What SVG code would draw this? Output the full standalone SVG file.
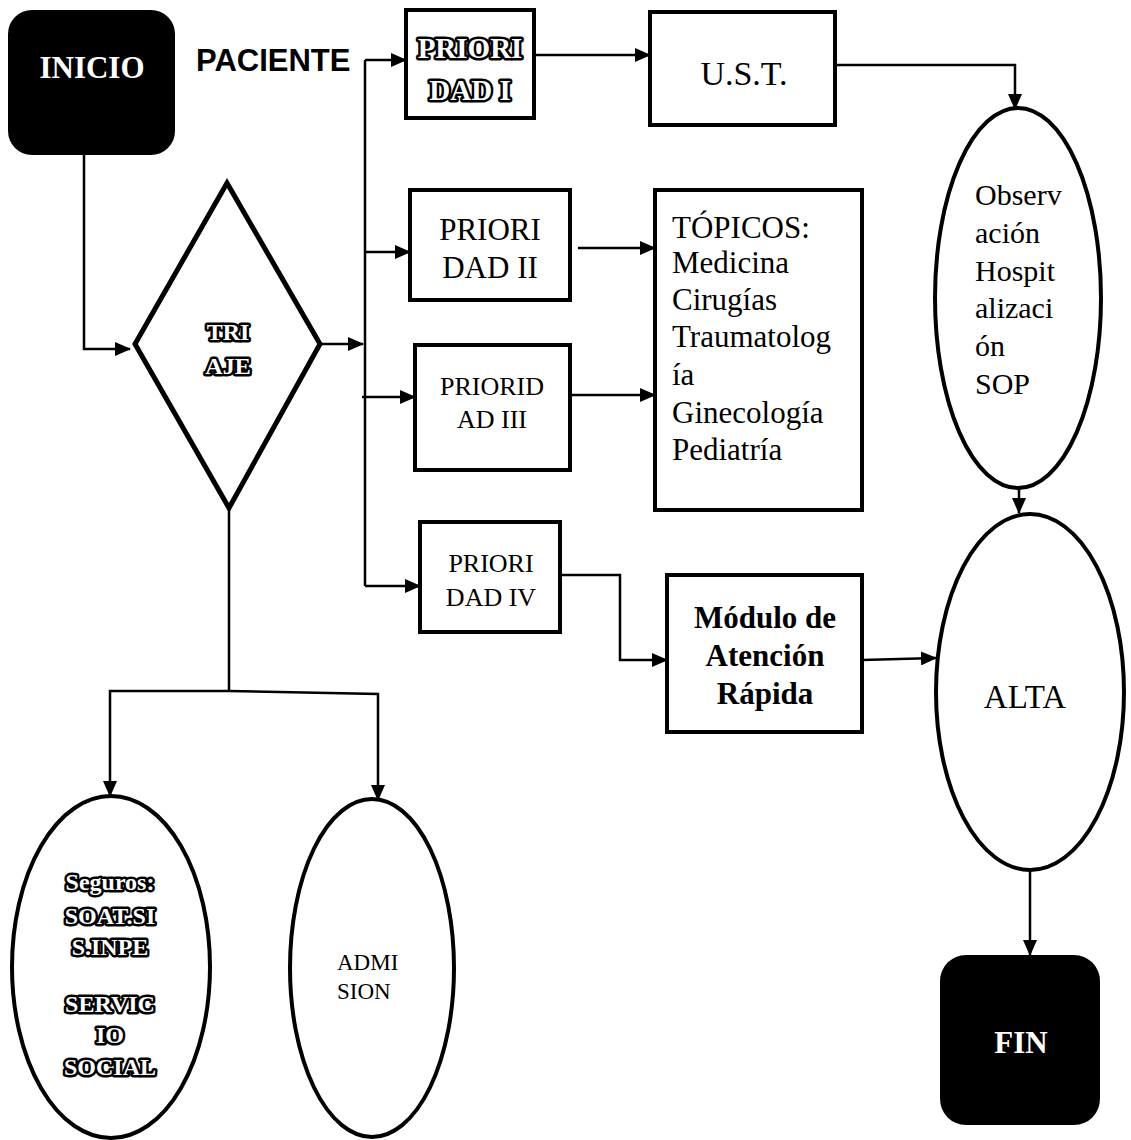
<svg xmlns="http://www.w3.org/2000/svg" width="1131" height="1140" viewBox="0 0 1131 1140">
<defs>
<marker id="ah" markerWidth="16" markerHeight="14" refX="15" refY="7" orient="auto" markerUnits="userSpaceOnUse">
<path d="M0,0 L16,7 L0,14 Z" fill="#000"/>
</marker>
<style>
.box{fill:#fff;stroke:#000;stroke-width:4}
.term{fill:#000;stroke:none}
.ell{fill:#fff;stroke:#000;stroke-width:4}
.con{fill:none;stroke:#000;stroke-width:2.5}
.arr{marker-end:url(#ah)}
.t{font-family:"Liberation Serif","Times New Roman",serif;fill:#000}
.c{text-anchor:middle}
.wt{font-family:"Liberation Serif","Times New Roman",serif;font-weight:bold;fill:#fff}
.ol{font-family:"Liberation Serif","Times New Roman",serif;font-weight:bold;fill:#fff;stroke:#000;stroke-width:5;stroke-linejoin:round;paint-order:stroke;text-anchor:middle}
</style>
</defs>
<rect width="1131" height="1140" fill="#fff"/>

<g id="connectors">
<polyline class="con" points="84,155 84,349 130,349" marker-end="url(#ah)"/>
<line class="con arr" x1="320" y1="344" x2="363" y2="344"/>
<line class="con" x1="365" y1="60" x2="365" y2="586"/>
<line class="con arr" x1="365" y1="60" x2="406" y2="60"/>
<line class="con arr" x1="365" y1="252" x2="410" y2="252"/>
<line class="con arr" x1="362" y1="397" x2="415" y2="397"/>
<line class="con arr" x1="365" y1="586" x2="420" y2="586"/>
<line class="con arr" x1="534" y1="55" x2="650" y2="55"/>
<polyline class="con arr" points="835,65 1015,65 1015,109"/>
<line class="con arr" x1="578" y1="248" x2="655" y2="248"/>
<line class="con arr" x1="570" y1="395" x2="655" y2="395"/>
<polyline class="con arr" points="560,575 620,575 620,660 667,660"/>
<line class="con arr" x1="862" y1="660" x2="936" y2="658"/>
<line class="con arr" x1="1019" y1="488" x2="1019" y2="513"/>
<line class="con arr" x1="1030" y1="870" x2="1030" y2="955"/>
<polyline class="con" points="229,508 229,691"/>
<polyline class="con arr" points="229,691 110,691 110,796"/>
<polyline class="con arr" points="229,691 378,694 378,800"/>
</g>

<g id="inicio">
<rect class="term" x="8" y="10" width="167" height="145" rx="24"/>
<text class="wt c" x="92" y="78" font-size="31">INICIO</text>
</g>

<g id="paciente">
<text x="196" y="71" font-family="Liberation Sans, Arial, sans-serif" font-weight="bold" font-size="31">PACIENTE</text>
</g>

<g id="triaje">
<polygon points="227,183 320,344 229,508 135,344" fill="#fff" stroke="#000" stroke-width="5" stroke-linejoin="miter"/>
<text class="ol" x="228" y="340" font-size="24">TRI</text>
<text class="ol" x="228" y="374" font-size="24">AJE</text>
</g>

<g id="prioridad1">
<rect class="box" x="406" y="10" width="128" height="108" stroke-width="5"/>
<text class="ol" x="470" y="58" font-size="29">PRIORI</text>
<text class="ol" x="470" y="100" font-size="29">DAD I</text>
</g>

<g id="ust">
<rect class="box" x="650" y="12" width="185" height="113" stroke-width="3"/>
<text class="t c" x="744" y="85" font-size="34">U.S.T.</text>
</g>

<g id="prioridad2">
<rect class="box" x="410" y="190" width="160" height="110"/>
<text class="t c" x="490" y="240" font-size="31">PRIORI</text>
<text class="t c" x="490" y="278" font-size="31">DAD II</text>
</g>

<g id="prioridad3">
<rect class="box" x="415" y="345" width="155" height="125"/>
<text class="t c" x="492" y="395" font-size="26">PRIORID</text>
<text class="t c" x="492" y="428" font-size="26">AD III</text>
</g>

<g id="prioridad4">
<rect class="box" x="420" y="522" width="140" height="110"/>
<text class="t c" x="491" y="572" font-size="26">PRIORI</text>
<text class="t c" x="491" y="606" font-size="26">DAD IV</text>
</g>

<g id="topicos">
<rect class="box" x="655" y="190" width="207" height="320"/>
<text class="t" x="672" y="238" font-size="31">TÓPICOS:</text>
<text class="t" x="672" y="273" font-size="31">Medicina</text>
<text class="t" x="672" y="310" font-size="31">Cirugías</text>
<text class="t" x="672" y="347" font-size="31">Traumatolog</text>
<text class="t" x="672" y="385" font-size="31">ía</text>
<text class="t" x="672" y="423" font-size="31">Ginecología</text>
<text class="t" x="672" y="460" font-size="31">Pediatría</text>
</g>

<g id="modulo">
<rect class="box" x="667" y="575" width="195" height="157"/>
<text class="t c" x="765" y="628" font-size="31" font-weight="bold">Módulo de</text>
<text class="t c" x="765" y="666" font-size="31" font-weight="bold">Atención</text>
<text class="t c" x="765" y="704" font-size="31" font-weight="bold">Rápida</text>
</g>

<g id="observacion">
<ellipse class="ell" cx="1018" cy="298" rx="83" ry="190"/>
<text class="t" x="975" y="205" font-size="30">Observ</text>
<text class="t" x="975" y="243" font-size="30">ación</text>
<text class="t" x="975" y="281" font-size="30">Hospit</text>
<text class="t" x="975" y="318" font-size="30">alizaci</text>
<text class="t" x="975" y="356" font-size="30">ón</text>
<text class="t" x="975" y="394" font-size="30">SOP</text>
</g>

<g id="alta">
<ellipse class="ell" cx="1030" cy="692" rx="94" ry="178"/>
<text class="t c" x="1025" y="708" font-size="33">ALTA</text>
</g>

<g id="fin">
<rect class="term" x="940" y="955" width="160" height="170" rx="26"/>
<text class="wt c" x="1021" y="1053" font-size="31">FIN</text>
</g>

<g id="seguros">
<ellipse class="ell" cx="111" cy="967" rx="99" ry="171"/>
<text class="ol" x="110" y="890" font-size="24">Seguros:</text>
<text class="ol" x="110" y="924" font-size="24">SOAT.SI</text>
<text class="ol" x="110" y="955" font-size="24">S.INPE</text>
<text class="ol" x="110" y="1012" font-size="24">SERVIC</text>
<text class="ol" x="110" y="1043" font-size="24">IO</text>
<text class="ol" x="110" y="1075" font-size="24">SOCIAL</text>
</g>

<g id="admision">
<ellipse class="ell" cx="372" cy="968" rx="82" ry="169"/>
<text class="t" x="337" y="970" font-size="23">ADMI</text>
<text class="t" x="337" y="999" font-size="23">SION</text>
</g>
</svg>
